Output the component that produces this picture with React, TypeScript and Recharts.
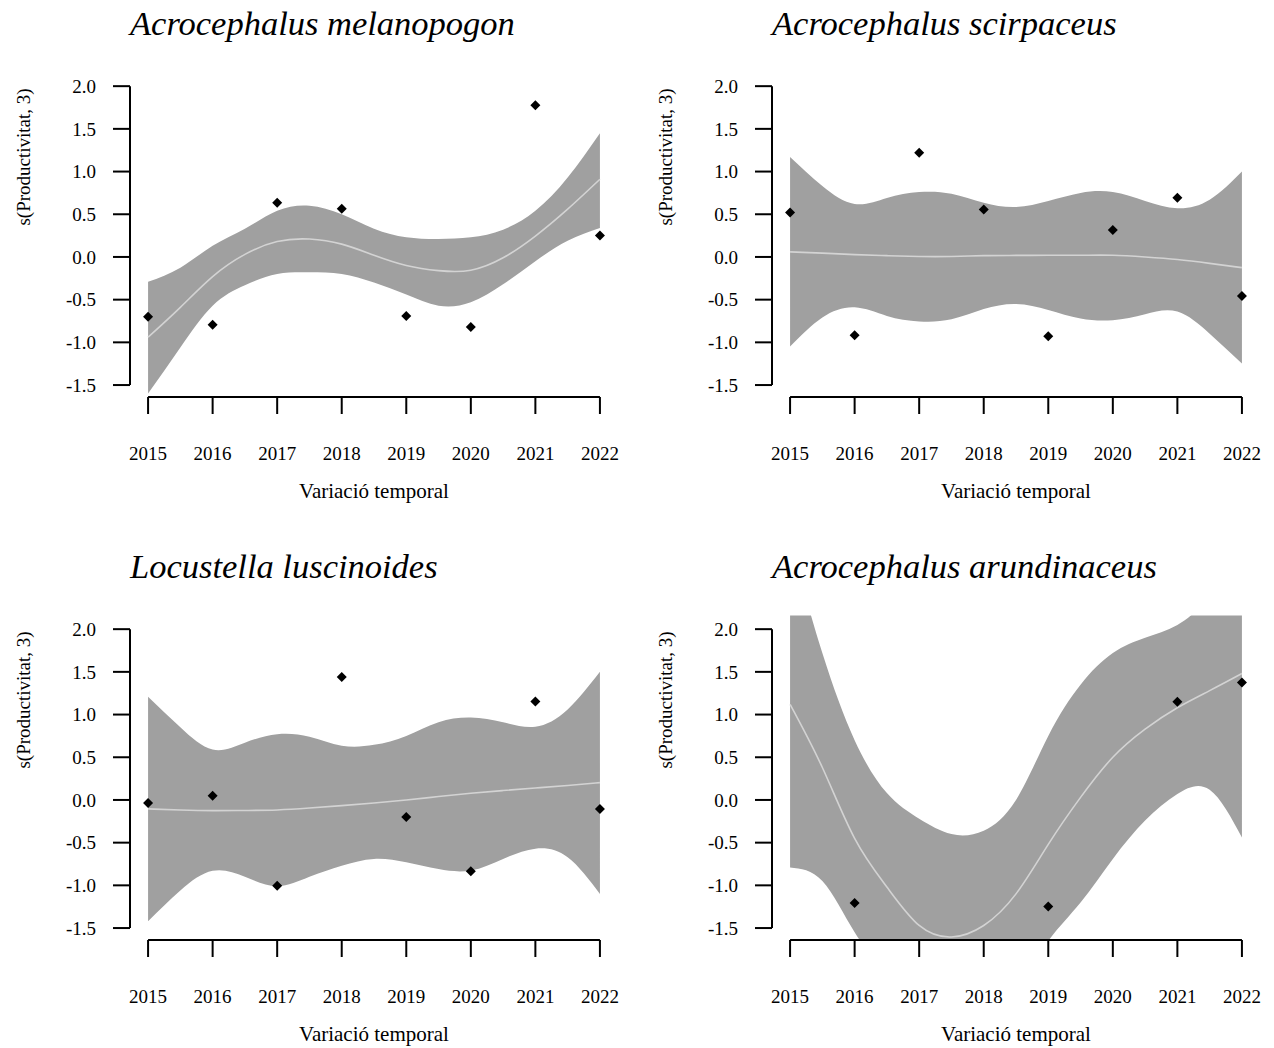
import React from 'react';
import { ComposedChart, Area, Line, Scatter, XAxis, YAxis, ReferenceLine } from 'recharts';

// ---------- shared axis values ----------
const YEARS = [2015, 2016, 2017, 2018, 2019, 2020, 2021, 2022];
const GRID = [2015, 2015.5, 2016, 2016.5, 2017, 2017.5, 2018, 2018.5, 2019, 2019.5, 2020, 2020.5, 2021, 2021.5, 2022];
const Y_TICKS = [-1.5, -1.0, -0.5, 0.0, 0.5, 1.0, 1.5, 2.0];
const X_DOMAIN = [2014.72, 2022.28];
const Y_DOMAIN = [-1.64, 2.16];

const X_LABEL = 'Variació temporal';
const Y_LABEL = 's(Productivitat, 3)';

// ---------- Acrocephalus melanopogon ----------
const MEL_FIT = [-0.94, -0.59, -0.23, 0.03, 0.18, 0.21, 0.15, 0.02, -0.1, -0.16, -0.155, -0.01, 0.245, 0.56, 0.91];
const MEL_HI = [-0.29, -0.125, 0.13, 0.33, 0.54, 0.6, 0.5, 0.33, 0.23, 0.21, 0.23, 0.32, 0.54, 0.93, 1.45];
const MEL_LO = [-1.6, -1.06, -0.57, -0.33, -0.2, -0.18, -0.2, -0.3, -0.44, -0.57, -0.53, -0.32, -0.05, 0.19, 0.34];
const MEL_PT_YEARS = [2015, 2016, 2017, 2018, 2019, 2020, 2021, 2022];
const MEL_PTS = [-0.7, -0.795, 0.635, 0.565, -0.69, -0.82, 1.777, 0.25];

// ---------- Acrocephalus scirpaceus ----------
const SCI_FIT = [0.06, 0.045, 0.027, 0.015, 0.005, 0.005, 0.015, 0.018, 0.02, 0.02, 0.02, 0.0, -0.03, -0.075, -0.125];
const SCI_HI = [1.17, 0.83, 0.62, 0.69, 0.76, 0.74, 0.635, 0.585, 0.655, 0.75, 0.76, 0.655, 0.57, 0.67, 1.0];
const SCI_LO = [-1.05, -0.71, -0.59, -0.69, -0.755, -0.73, -0.61, -0.55, -0.62, -0.72, -0.74, -0.67, -0.64, -0.9, -1.247];
const SCI_PT_YEARS = [2015, 2016, 2017, 2018, 2019, 2020, 2021, 2022];
const SCI_PTS = [0.52, -0.916, 1.22, 0.557, -0.93, 0.316, 0.694, -0.456];

// ---------- Locustella luscinoides ----------
const LUS_FIT = [-0.105, -0.118, -0.125, -0.123, -0.117, -0.095, -0.066, -0.035, 0.0, 0.04, 0.078, 0.11, 0.14, 0.17, 0.203];
const LUS_HI = [1.21, 0.85, 0.59, 0.67, 0.77, 0.74, 0.635, 0.645, 0.75, 0.91, 0.965, 0.91, 0.857, 1.06, 1.5];
const LUS_LO = [-1.42, -1.06, -0.83, -0.9, -1.01, -0.9, -0.77, -0.69, -0.73, -0.81, -0.826, -0.69, -0.57, -0.67, -1.1];
const LUS_PT_YEARS = [2015, 2016, 2017, 2018, 2019, 2020, 2021, 2022];
const LUS_PTS = [-0.035, 0.05, -1.005, 1.44, -0.2, -0.834, 1.153, -0.105];

// ---------- Acrocephalus arundinaceus ----------
const ARU_FIT = [1.12, 0.38, -0.45, -1.02, -1.47, -1.605, -1.47, -1.1, -0.52, 0.03, 0.5, 0.83, 1.08, 1.28, 1.48];
const ARU_HI = [3.03, 1.72, 0.7, 0.08, -0.22, -0.4, -0.36, 0.0, 0.75, 1.35, 1.72, 1.9, 2.05, 2.45, 3.4];
const ARU_LO = [-0.79, -0.95, -1.55, -2.1, -2.72, -2.8, -2.58, -2.2, -1.65, -1.2, -0.69, -0.24, 0.07, 0.12, -0.44];
const ARU_PT_YEARS = [2016, 2019, 2021, 2022];
const ARU_PTS = [-1.208, -1.247, 1.15, 1.376];

const FONT = '"Liberation Serif", "Times New Roman", serif';
const BAND = '#A0A0A0';
const FIT_LINE = '#D3D3D3';

const PANELS = [
  { title: 'Acrocephalus melanopogon', left: 0, top: 0, fit: MEL_FIT, hi: MEL_HI, lo: MEL_LO, ptYears: MEL_PT_YEARS, pts: MEL_PTS },
  { title: 'Acrocephalus scirpaceus', left: 642, top: 0, fit: SCI_FIT, hi: SCI_HI, lo: SCI_LO, ptYears: SCI_PT_YEARS, pts: SCI_PTS },
  { title: 'Locustella luscinoides', left: 0, top: 543, fit: LUS_FIT, hi: LUS_HI, lo: LUS_LO, ptYears: LUS_PT_YEARS, pts: LUS_PTS },
  { title: 'Acrocephalus arundinaceus', left: 642, top: 543, fit: ARU_FIT, hi: ARU_HI, lo: ARU_LO, ptYears: ARU_PT_YEARS, pts: ARU_PTS },
];

const CHART_W = 630;
const CHART_H = 480;
const MARGIN = { top: 72.5, right: 12, bottom: 23, left: 70 };
const PLOT_L = 130;
const PLOT_W = 488;

const Diamond = (props: any) => {
  const { cx, cy } = props;
  if (cx == null || cy == null) return null;
  const r = 5;
  return <path d={`M${cx},${cy - r}L${cx + r},${cy}L${cx},${cy + r}L${cx - r},${cy}Z`} fill="#000" />;
};

const tickStyle = { fontFamily: FONT, fontSize: 19, fill: '#000' };

function Panel({ p }: { p: any }) {
  const curve = GRID.map((x, i) => ({ x, band: [p.lo[i], p.hi[i]], fit: p.fit[i] }));
  const pts = p.ptYears.map((x: number, i: number) => ({ x, y: p.pts[i] }));
  return (
    <div style={{ position: 'absolute', left: p.left, top: p.top }}>
      <ComposedChart width={CHART_W} height={CHART_H} margin={MARGIN}>
        <XAxis
          dataKey="x"
          type="number"
          domain={X_DOMAIN}
          ticks={YEARS}
          interval={0}
          allowDataOverflow
          axisLine={false}
          tickLine={{ stroke: '#000', strokeWidth: 2 }}
          tickSize={17}
          tickMargin={33}
          height={60}
          tick={tickStyle}
        />
        <YAxis
          type="number"
          domain={Y_DOMAIN}
          ticks={Y_TICKS}
          interval={0}
          allowDataOverflow
          axisLine={false}
          tickLine={{ stroke: '#000', strokeWidth: 2 }}
          tickSize={17}
          tickMargin={17}
          width={60}
          tick={tickStyle}
          tickFormatter={(v: number) => v.toFixed(1)}
        />
        <Area data={curve} dataKey="band" type="natural" fill={BAND} fillOpacity={1} stroke="none" isAnimationActive={false} activeDot={false} />
        <Line data={curve} dataKey="fit" type="natural" stroke={FIT_LINE} strokeWidth={1.6} dot={false} activeDot={false} isAnimationActive={false} />
        <Scatter data={pts} dataKey="y" shape={Diamond} isAnimationActive={false} />
        <ReferenceLine segment={[{ x: X_DOMAIN[0], y: Y_TICKS[0] }, { x: X_DOMAIN[0], y: Y_TICKS[Y_TICKS.length - 1] }]} stroke="#000" strokeWidth={2} ifOverflow="visible" />
        <ReferenceLine segment={[{ x: YEARS[0], y: Y_DOMAIN[0] }, { x: YEARS[YEARS.length - 1], y: Y_DOMAIN[0] }]} stroke="#000" strokeWidth={2} ifOverflow="visible" />
      </ComposedChart>
    </div>
  );
}

export default function App() {
  return (
    <div style={{ position: 'absolute', left: 0, top: 0, width: 1274, height: 1048, overflow: 'hidden', background: '#fff' }}>
      {PANELS.map((p, i) => (
        <Panel key={i} p={p} />
      ))}
      <svg width={1274} height={1048} style={{ position: 'absolute', left: 0, top: 0, pointerEvents: 'none' }}>
        {PANELS.map((p, i) => (
          <g key={i} transform={`translate(${p.left},${p.top})`} fontFamily={FONT} fill="#000">
            <text x={PLOT_L} y={35} fontSize={34.5} fontStyle="italic">{p.title}</text>
            <text x={PLOT_L + PLOT_W / 2} y={498} fontSize={21} textAnchor="middle">{X_LABEL}</text>
            <text transform={`translate(30,157) rotate(-90)`} fontSize={19} textAnchor="middle">{Y_LABEL}</text>
          </g>
        ))}
      </svg>
    </div>
  );
}
